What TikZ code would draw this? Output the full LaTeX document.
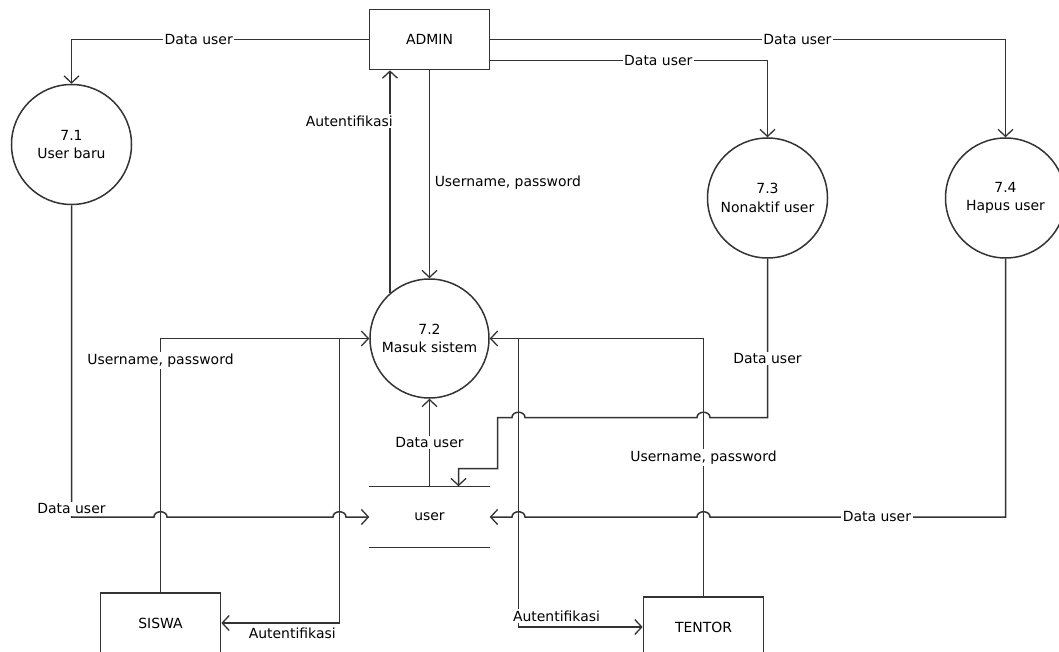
\documentclass[tikz,border=0pt]{standalone}
\usepackage{fontspec}
\setmainfont{DejaVu Sans}
\usetikzlibrary{arrows.meta,calc}
\begin{document}
\begin{tikzpicture}[x=1bp,y=-1bp,
  ln/.style={line width=1.5bp, draw=black!80},
  flow/.style={ln, -{Straight Barb[length=7bp,width=15bp,line width=1.3bp]}},
  lbl/.style={font=\fontsize{14}{17}\selectfont, fill=white, inner sep=1.5bp},
  plain/.style={font=\fontsize{14}{17}\selectfont, inner sep=1.5bp},
  ent/.style={draw=black!80, line width=1.7bp, minimum width=120bp, minimum height=60bp, inner sep=0pt, font=\fontsize{14}{17}\selectfont},
  proc/.style={draw=black!80, line width=1.5bp, circle, minimum size=120bp, inner sep=0pt, align=center, font=\fontsize{14}{18.5}\selectfont},
  store/.style={minimum width=120bp, minimum height=61bp, inner sep=0pt, font=\fontsize{14}{17}\selectfont}
]
\clip (0,0) rectangle (1059,652);
\fill[white] (0,0) rectangle (1059,652);

% nodes
\node[ent] (admin) at (429.5,39.5) {ADMIN};
\node[proc] (p71) at (71.5,144.5) {7.1\\User baru};
\node[proc, minimum size=119bp] (p72) at (429.5,338.5) {7.2\\Masuk sistem};
\node[proc] (p73) at (767.5,198) {7.3\\Nonaktif user};
\node[proc] (p74) at (1005.5,198) {7.4\\Hapus user};
\node[store] (user) at (429.5,517) {user};
\draw[ln] (user.north west) -- (user.north east);
\draw[ln] (user.south west) -- (user.south east);
\node[ent] (siswa) at (160.5,623) {SISWA};
\node[ent] (tentor) at (703.5,627) {TENTOR};
\coordinate (j1) at (339.5,338.5);
\coordinate (j2) at (518.5,338.5);

% ADMIN flows
\draw[flow] (admin.west) -| node[lbl,pos=0.286]{Data user} (p71.north);
\draw[flow] (admin.east) -| node[lbl,pos=0.298]{Data user} (p74.north);
\draw[flow] ([yshift=-21bp]admin.east) -| node[lbl,pos=0.303]{Data user} (p73.north);
\draw[flow] (admin.south) -- node[plain,pos=0.54,anchor=west,xshift=3bp]{Username, password} (p72.north);
\draw[flow] (p72.131) -- node[lbl,pos=0.772,anchor=east,xshift=5bp]{Autentifikasi} (p72.131 |- admin.south);

% SISWA flows
\draw[flow] (siswa.north) |- node[lbl,pos=0.457]{Username, password} (p72.west);
\draw[flow] (j1) |- node[plain,pos=0.7,yshift=-10bp]{Autentifikasi} (siswa.east);

% TENTOR flows
\draw[flow] (tentor.north) |- node[lbl,pos=0.269]{Username, password} (p72.east);
\draw[flow] (j2) |- node[lbl,pos=0.5,xshift=38bp,yshift=11bp]{Autentifikasi} (tentor.west);

% store to 7.2
\draw[flow] (user.north) -- node[lbl,midway]{Data user} (p72.south);

% 7.1 to store
\draw[flow] (p71.south) -- (p71.south |- user.west) node[lbl,yshift=8bp]{Data user}
  -- (154,517) .. controls (154,510) and (167,510) .. (167,517)
  -- (333,517) .. controls (333,510) and (346,510) .. (346,517)
  -- (user.west);

% 7.4 to store
\draw[flow] (p74.south) -- (p74.south |- user.east)
  -- node[lbl,pos=0.435]{Data user} (710,517) .. controls (710,510) and (697,510) .. (697,517)
  -- (525,517) .. controls (525,510) and (512,510) .. (512,517)
  -- (user.east);

% 7.3 to store
\draw[flow] (p73.south) -- node[lbl,pos=0.63]{Data user} (767.5,417.5)
  -- (710,417.5) .. controls (710,410.5) and (697,410.5) .. (697,417.5)
  -- (525,417.5) .. controls (525,410.5) and (512,410.5) .. (512,417.5)
  -- (497.5,417.5) -- (497.5,468.5) -- (458.5,468.5) -- (458.5,468.5 |- user.north);
\end{tikzpicture}
\end{document}
